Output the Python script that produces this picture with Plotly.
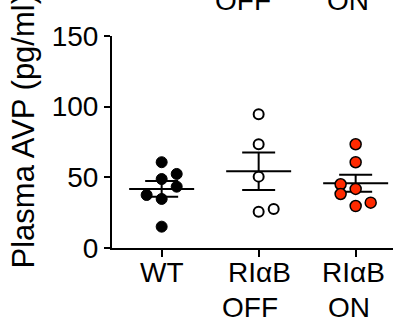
import numpy as np
import plotly.graph_objects as go

# ---- data ----
categories = ["WT", "RIαB<br>OFF", "RIαB<br>ON"]
wt_values = [60.7, 52.4, 48.8, 43.4, 37.5, 34.7, 15.1]
off_values = [94.6, 73.4, 50.5, 25.7, 27.6]
on_values = [73.4, 60.7, 45.1, 41.8, 38.2, 29.7, 32.1]
y_ticks = [0, 50, 100, 150]
y_title = "Plasma AVP (pg/ml)"
top_labels = ["OFF", "ON"]  # clipped labels from panel above

# ---- layout / style (positions, not data) ----
J = 0.155
wt_jitter = [0, J, 0, J, -J, 0, 0]
off_jitter = [0, 0, 0, 0, J]
on_jitter = [0, 0, -J, 0, -J, 0, J]

groups = [
    (wt_values, wt_jitter, dict(color="black", size=11, line=dict(color="black", width=1))),
    (off_values, off_jitter, dict(color="white", size=10, line=dict(color="black", width=2))),
    (on_values, on_jitter, dict(color="#FF2A00", size=11, line=dict(color="black", width=1.5))),
]
# pixel nudges for each label line (line1, line2)
label_shift = [[0, 0], [1, -9], [-2, -7]]

FONT = "Liberation Sans, Arial, sans-serif"
FS = 28
W, H = 393, 333
TOP, BOT = 36, 248  # pixel rows of plot area
PH = BOT - TOP
L = 112
PW = W - L


def py(pix):
    """pixel row -> paper y"""
    return (BOT - pix) / PH


def px(pix):
    return (pix - L) / PW


fig = go.Figure()

MEAN_HW = 0.335
SEM_HW = 0.17
for i, (vals, jit, mk) in enumerate(groups):
    v = np.array(vals)
    m = v.mean()
    sem = v.std(ddof=1) / np.sqrt(len(v))
    xs = [i - MEAN_HW, i + MEAN_HW, None,
          i - SEM_HW, i + SEM_HW, None,
          i - SEM_HW, i + SEM_HW, None,
          i, i]
    ys = [m, m, None,
          m + sem, m + sem, None,
          m - sem, m - sem, None,
          m - sem, m + sem]
    fig.add_trace(go.Scatter(x=xs, y=ys, mode="lines",
                             line=dict(color="black", width=2),
                             hoverinfo="skip", showlegend=False))

for i, (vals, jit, mk) in enumerate(groups):
    fig.add_trace(go.Scatter(x=[i + j for j in jit], y=vals, mode="markers",
                             marker=mk, showlegend=False, cliponaxis=False))

fig.update_layout(
    width=W, height=H,
    margin=dict(l=L, r=0, t=TOP, b=H - BOT),
    paper_bgcolor="white", plot_bgcolor="white",
    font=dict(family=FONT, size=FS, color="black"),
    xaxis=dict(
        range=[-0.512, 2.385],
        tickvals=[0, 1, 2], showticklabels=False,
        showline=True, linecolor="black", linewidth=2,
        ticks="outside", ticklen=7, tickwidth=2, tickcolor="black",
        showgrid=False, zeroline=False,
    ),
    yaxis=dict(
        range=[0, 150],
        tickvals=y_ticks,
        showline=True, linecolor="black", linewidth=2,
        ticks="outside", ticklen=6, tickwidth=2, tickcolor="black",
        showgrid=False, zeroline=False,
        tickfont=dict(family=FONT, size=FS, color="black"),
    ),
)

# category labels, placed under the axis ticks
line_rows = [272, 307]
for i, cat in enumerate(categories):
    for k, part in enumerate(cat.split("<br>")):
        fig.add_annotation(
            text=part, showarrow=False,
            xref="x", x=i, xanchor="center", xshift=label_shift[i][k],
            yref="paper", y=py(line_rows[k]), yanchor="middle",
            font=dict(family=FONT, size=FS, color="black"),
        )

# y-axis title as rotated annotation
fig.add_annotation(
    text=y_title, textangle=-90, showarrow=False,
    xref="paper", yref="paper",
    x=px(23), xanchor="center",
    y=py(271), yanchor="bottom",
    font=dict(family=FONT, size=31, color="black"),
)

# clipped labels from the panel above
for lbl, xp in zip(top_labels, [243, 348]):
    fig.add_annotation(
        text=lbl, showarrow=False,
        xref="paper", yref="paper",
        x=px(xp), xanchor="center",
        y=py(0), yanchor="middle",
        font=dict(family=FONT, size=FS, color="black"),
    )

fig.write_html("out.html",
               config={"displayModeBar": False},
               post_script="document.body.style.margin='0';document.body.style.overflow='hidden';")
